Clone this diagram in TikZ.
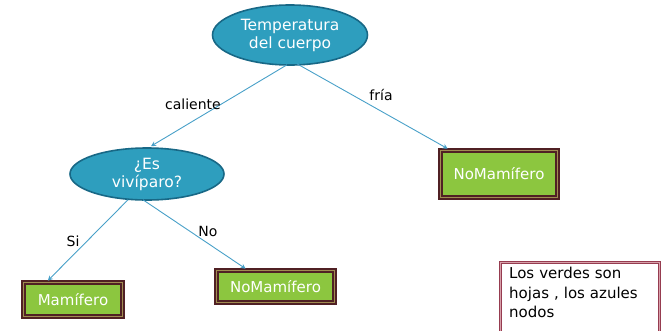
\documentclass[tikz,border=0pt]{standalone}
\usepackage{fontspec}
\setmainfont{DejaVu Sans}
\usetikzlibrary{shapes.geometric,arrows.meta,calc}
\definecolor{teal1}{RGB}{46,158,190}
\definecolor{teal2}{RGB}{24,104,134}
\definecolor{linec}{RGB}{72,160,200}
\definecolor{leafg}{RGB}{140,198,63}
\definecolor{leafb}{RGB}{80,32,36}
\definecolor{leaft}{RGB}{160,140,80}
\definecolor{noteb}{RGB}{150,60,80}
\definecolor{notet}{RGB}{215,160,170}
\tikzset{
  decision/.style={ellipse, fill=teal1, draw=teal2, line width=1.6pt, inner sep=0pt,
    text=white, align=center, font=\fontsize{15.5}{18}\selectfont},
  leaf/.style={rectangle, fill=leafg, draw=leafb, line width=1.7pt, double=leaft, double distance=0.8pt,
    text=white, inner sep=0pt, font=\fontsize{15}{17}\selectfont},
  conn/.style={draw=linec, line width=0.9pt, -{Stealth[length=5pt,width=5pt]}},
  elabel/.style={font=\fontsize{14}{16}\selectfont, text=black, inner sep=1pt},
  notebox/.style={rectangle, fill=white, draw=noteb, line width=1.4pt, double=notet, double distance=0.7pt,
    anchor=north west, minimum width=159pt, minimum height=80pt, inner sep=0pt},
  notetext/.style={anchor=north west, align=left, text width=148pt, inner xsep=0pt, inner ysep=0pt,
    font=\fontsize{15}{19.5}\selectfont}
}
\begin{document}
\begin{tikzpicture}[x=1pt,y=-1pt]
\useasboundingbox (0,0) rectangle (661,330);
\node[decision, minimum width=155pt, minimum height=60pt] (temp) at (290,35) {Temperatura\\del cuerpo};
\node[decision, minimum width=154pt, minimum height=52pt] (viv) at (147,174) {¿Es\\vivíparo?};
\node[leaf, minimum width=117pt, minimum height=47pt] (nm1) at (499,174) {NoMamífero};
\node[leaf, minimum width=99pt, minimum height=34pt] (mam) at (73,299.5) {Mamífero};
\node[leaf, minimum width=118pt, minimum height=32pt] (nm2) at (275.5,286.5) {NoMamífero};
\node[notebox] (nt) at (500,262) {};
\node[notetext] (ntx) at ($(nt.north west)+(9,5)$) {Los verdes son\\hojas , los azules\\nodos};

\coordinate (t1) at ($(temp.south)+(-3,-1)$);
\coordinate (t2) at ($(temp.south)+(7,-2)$);
\coordinate (v1) at ($(viv.south)+(-19,-1)$);
\coordinate (v2) at ($(viv.south)+(-4,-1)$);
\draw[conn] (t1) -- ($(viv.north)+(4,-1)$);
\draw[conn] (t2) -- ($(nm1.north west)+(8,-1)$);
\draw[conn] (v1) -- ($(mam.north west)!0.25!(mam.north east)+(0,-1)$);
\draw[conn] (v2) -- ($(nm2.north west)!0.25!(nm2.north east)+(0,-1)$);

\node[elabel] (lc) at (193,104) {caliente};
\node[elabel] (lf) at (381,95) {fría};
\node[elabel] (ls) at (73,241) {Si};
\node[elabel] (ln) at (208,231) {No};
\end{tikzpicture}
\end{document}
